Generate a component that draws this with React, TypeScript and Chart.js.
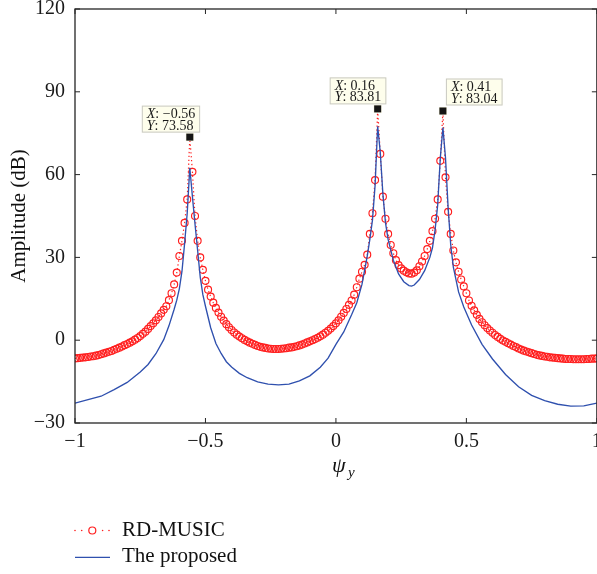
import React, { useEffect, useRef } from "react";
import { Chart, registerables } from "chart.js";

Chart.register(...registerables);

// ---------- data ----------
const psiStart = -1;
const psiStep = 0.01;

// RD-MUSIC spectrum (dB), sampled on psi = -1 : 0.01 : 1
const rdMusic = [
  -6.6, -6.5, -6.4, -6.3, -6.2, -6.1, -5.9, -5.8, -5.6, -5.4,
  -5.1, -4.8, -4.5, -4.2, -3.9, -3.5, -3.1, -2.7, -2.3, -1.8,
  -1.4, -0.9, -0.4, 0.2, 0.8, 1.5, 2.3, 3.1, 4.1, 5.1,
  6.1, 7.2, 8.4, 9.7, 11.0, 12.3, 14.5, 17.0, 20.2, 24.5,
  30.5, 36.0, 42.5, 51.0, 73.58, 61.0, 45.0, 36.0, 30.0, 25.5,
  21.5, 18.3, 15.8, 13.6, 11.7, 10.0, 8.5, 7.1, 5.8, 4.7,
  3.7, 2.8, 2.0, 1.3, 0.7, 0.1, -0.4, -0.9, -1.3, -1.7,
  -2.1, -2.4, -2.6, -2.8, -3.0, -3.1, -3.2, -3.2, -3.2, -3.1,
  -3.0, -2.9, -2.7, -2.6, -2.4, -2.2, -1.9, -1.6, -1.2, -0.8,
  -0.4, 0.0, 0.4, 0.9, 1.4, 2.0, 2.7, 3.4, 4.2, 5.1,
  6.1, 7.2, 8.5, 9.9, 11.3, 12.8, 14.4, 16.5, 19.2, 22.3,
  24.8, 27.3, 31.0, 38.5, 46.0, 58.0, 83.81, 67.5, 52.0, 44.0,
  38.5, 34.5, 31.5, 29.0, 27.2, 26.0, 25.2, 24.6, 24.2, 24.1,
  24.5, 25.3, 26.8, 28.5, 30.5, 33.0, 36.0, 39.5, 44.0, 51.0,
  65.0, 83.04, 59.0, 46.5, 38.5, 32.5, 28.2, 24.8, 22.0, 19.5,
  17.0, 14.4, 12.5, 10.8, 9.2, 7.7, 6.5, 5.4, 4.4, 3.5,
  2.7, 1.9, 1.2, 0.5, -0.1, -0.6, -1.1, -1.6, -2.1, -2.5,
  -3.0, -3.4, -3.8, -4.1, -4.4, -4.7, -5.0, -5.3, -5.5, -5.7,
  -5.9, -6.0, -6.2, -6.3, -6.4, -6.5, -6.6, -6.7, -6.8, -6.8,
  -6.8, -6.9, -6.9, -6.9, -6.9, -6.9, -6.8, -6.8, -6.7, -6.7,
  -6.6,
];
const psiGrid = rdMusic.map((_, i) => Math.round((psiStart + i * psiStep) * 100) / 100);

// The proposed method
const proposedPsi = [
  -1, -0.95, -0.9, -0.85, -0.8, -0.75, -0.72, -0.69, -0.66, -0.64,
  -0.62, -0.61, -0.6, -0.59, -0.58, -0.57, -0.56, -0.55, -0.54, -0.53,
  -0.52, -0.51, -0.5, -0.48, -0.46, -0.44, -0.42, -0.4, -0.37, -0.34,
  -0.3, -0.26, -0.22, -0.18, -0.14, -0.1, -0.06, -0.03, 0, 0.03,
  0.06, 0.08, 0.1, 0.12, 0.13, 0.14, 0.15, 0.16, 0.17, 0.18,
  0.19, 0.2, 0.22, 0.24, 0.26, 0.28, 0.29, 0.3, 0.32, 0.34,
  0.36, 0.37, 0.38, 0.39, 0.4, 0.41, 0.42, 0.43, 0.44, 0.45,
  0.47, 0.49, 0.52, 0.56, 0.6, 0.65, 0.7, 0.75, 0.8, 0.85,
  0.9, 0.95, 1,
];
const proposedAmp = [
  -22.8, -21.5, -20.3, -17.9, -15.3, -11.5, -8.8, -4.9, 0.2, 5.2,
  11.2, 14.5, 18.7, 25, 35, 46, 62.5, 52, 42, 32.5,
  22.8, 16.5, 12.3, 4.5, -1.2, -4.8, -7.8, -9.7, -12, -13.6,
  -15.1, -15.9, -16.2, -15.9, -14.7, -12.9, -9.8, -6.5, -1.5, 3,
  9.2, 13.6, 20.3, 30.5, 36.5, 43.5, 56, 77.5, 68, 53,
  42.5, 36.5, 29, 24, 21.2, 19.8, 19.6, 20, 22, 25.2,
  30, 33.5, 40, 49, 66, 77, 66, 48, 34.5, 26.5,
  17.5, 12, 5.5, -1.5, -6.8, -12.4, -16.9, -20, -21.9, -23.2,
  -23.9, -23.8, -22.8,
];

// data tips (peaks)
const peakPsi = [-0.56, 0.16, 0.41];
const peakAmp = [73.58, 83.81, 83.04];

const xTicks = [-1, -0.5, 0, 0.5, 1];
const yTicks = [-30, 0, 30, 60, 90, 120];
const seriesNames = ["RD-MUSIC", "The proposed"];
const yTitle = "Amplitude (dB)";

// ---------- style ----------
const FONT = '"Liberation Serif", "Times New Roman", serif';
const RED = "#ff1f1f";
const BLUE = "#2f50ae";
const AXIS = "#262626";
const TIP_FONT = 14;
const TIP_OFFSETS = [
  { dx: -48, dy: -31.5 },
  { dx: -48, dy: -31.5 },
  { dx: 3, dy: -32.5 },
];

const fmt = (v: number) => (v < 0 ? "\u2212" + String(Math.abs(v)) : String(v));
const isPeak = (x: number) => peakPsi.some((p) => Math.abs(p - x) < 1e-6);

const decor = {
  id: "decor",
  afterDraw(chart: any) {
    const { ctx, chartArea: a, scales } = chart;
    const xs = scales.x;
    const ys = scales.y;
    ctx.save();
    const line = (x1: number, y1: number, x2: number, y2: number) => {
      ctx.beginPath();
      ctx.moveTo(x1, y1);
      ctx.lineTo(x2, y2);
      ctx.stroke();
    };
    // frame + inward ticks
    ctx.strokeStyle = AXIS;
    ctx.lineWidth = 1.3;
    ctx.setLineDash([]);
    ctx.strokeRect(a.left, a.top, a.right - a.left, a.bottom - a.top);
    ctx.lineWidth = 1;
    xTicks.forEach((v) => {
      const p = xs.getPixelForValue(v);
      line(p, a.bottom, p, a.bottom - 5);
      line(p, a.top, p, a.top + 5);
    });
    yTicks.forEach((v) => {
      const p = ys.getPixelForValue(v);
      line(a.left, p, a.left + 5, p);
      line(a.right, p, a.right - 5, p);
    });

    // data tips
    peakPsi.forEach((px, i) => {
      const mx = xs.getPixelForValue(px);
      const my = ys.getPixelForValue(peakAmp[i]);
      const l1v = ": " + fmt(px);
      const l2v = ": " + peakAmp[i].toFixed(2);
      ctx.font = `italic ${TIP_FONT}px ${FONT}`;
      const wX = ctx.measureText("X").width;
      const wY = ctx.measureText("Y").width;
      ctx.font = `${TIP_FONT}px ${FONT}`;
      const w1 = wX + ctx.measureText(l1v).width;
      const w2 = wY + ctx.measureText(l2v).width;
      const bw = Math.max(w1, w2) + 10;
      const bh = 27;
      const bx = mx + TIP_OFFSETS[i].dx;
      const by = my + TIP_OFFSETS[i].dy;
      ctx.fillStyle = "#fefeec";
      ctx.fillRect(bx, by, bw, bh);
      ctx.strokeStyle = "#c9c9c2";
      ctx.lineWidth = 1;
      ctx.strokeRect(bx + 0.5, by + 0.5, bw - 1, bh - 1);
      ctx.fillStyle = "#1a1a1a";
      ctx.textAlign = "left";
      ctx.textBaseline = "alphabetic";
      ctx.font = `italic ${TIP_FONT}px ${FONT}`;
      ctx.fillText("X", bx + 5, by + 12.5);
      ctx.fillText("Y", bx + 5, by + 24);
      ctx.font = `${TIP_FONT}px ${FONT}`;
      ctx.fillText(l1v, bx + 5 + wX, by + 12.5);
      ctx.fillText(l2v, bx + 5 + wY, by + 24);
      // marker
      ctx.fillStyle = "#f3f0d8";
      ctx.fillRect(mx - 4, my - 4, 8, 8);
      ctx.fillStyle = "#151515";
      ctx.fillRect(mx - 3.5, my - 3.5, 7, 7);
    });

    // y title
    ctx.fillStyle = "#111";
    ctx.font = `21px ${FONT}`;
    ctx.save();
    ctx.translate(25, (a.top + a.bottom) / 2);
    ctx.rotate(-Math.PI / 2);
    ctx.textAlign = "center";
    ctx.textBaseline = "alphabetic";
    ctx.fillText(yTitle, 0, 0);
    ctx.restore();

    // x title  psi_y
    ctx.textAlign = "left";
    ctx.textBaseline = "alphabetic";
    ctx.font = `italic 22px ${FONT}`;
    ctx.fillText("\u03c8", 332, 472);
    ctx.font = `italic 15px ${FONT}`;
    ctx.fillText("y", 348, 477);

    // legend
    const lx0 = 75;
    const lx1 = 110;
    const ly1 = 530.5;
    const ly2 = 557.3;
    ctx.fillStyle = RED;
    [75, 81.7, 102.6, 109].forEach((dx) => {
      ctx.beginPath();
      ctx.arc(dx, ly1, 0.8, 0, Math.PI * 2);
      ctx.fill();
    });
    ctx.strokeStyle = RED;
    ctx.setLineDash([]);
    ctx.lineWidth = 1.2;
    ctx.beginPath();
    ctx.arc(92.3, ly1, 3.5, 0, Math.PI * 2);
    ctx.stroke();
    ctx.strokeStyle = BLUE;
    ctx.lineWidth = 1.3;
    line(lx0, ly2, lx1, ly2);
    ctx.fillStyle = "#111";
    ctx.font = `21px ${FONT}`;
    ctx.fillText(seriesNames[0], 122, 535.5);
    ctx.fillText(seriesNames[1], 122, 562);
    ctx.restore();
  },
};

export default function App() {
  const ref = useRef<HTMLCanvasElement>(null);
  useEffect(() => {
    const canvas = ref.current;
    if (!canvas) return;
    const tickFont = { family: FONT, size: 20 };
    const chart = new Chart(canvas, {
      type: "line",
      data: {
        datasets: [
          {
            label: seriesNames[0],
            data: psiGrid.map((x, i) => ({ x, y: rdMusic[i] })),
            borderColor: RED,
            borderWidth: 1.2,
            borderDash: [1.3, 2.6],
            pointStyle: "circle",
            pointRadius: (c: any) => (c.raw && isPeak(c.raw.x) ? 0 : 3.5),
            pointBorderColor: RED,
            pointBackgroundColor: "rgba(0,0,0,0)",
            pointBorderWidth: 1.15,
            tension: 0,
            order: 2,
          },
          {
            label: seriesNames[1],
            data: proposedPsi.map((x, i) => ({ x, y: proposedAmp[i] })),
            borderColor: BLUE,
            borderWidth: 1.35,
            pointRadius: 0,
            tension: 0,
            order: 1,
          },
        ],
      },
      options: {
        animation: false,
        responsive: false,
        devicePixelRatio: 1,
        layout: { padding: { top: 9, right: 0, bottom: 111, left: 0 } },
        plugins: { legend: { display: false }, tooltip: { enabled: false } },
        scales: {
          x: {
            type: "linear",
            min: -1,
            max: 1,
            grid: { display: false, drawTicks: false },
            border: { display: false },
            afterBuildTicks: (s: any) => {
              s.ticks = xTicks.map((v) => ({ value: v }));
            },
            ticks: {
              font: tickFont,
              color: "#1a1a1a",
              padding: 7,
              maxRotation: 0,
              autoSkip: false,
              callback: (v: any) => fmt(Number(v)),
            },
            afterFit: (s: any) => {
              s.height = 40;
              s.paddingLeft = 0;
              s.paddingRight = 0;
            },
          },
          y: {
            type: "linear",
            min: -30,
            max: 120,
            grid: { display: false, drawTicks: false },
            border: { display: false },
            afterBuildTicks: (s: any) => {
              s.ticks = yTicks.map((v) => ({ value: v }));
            },
            ticks: {
              font: tickFont,
              color: "#1a1a1a",
              padding: 10,
              autoSkip: false,
              callback: (v: any) => fmt(Number(v)),
            },
            afterFit: (s: any) => {
              s.width = 75;
              s.paddingTop = 0;
              s.paddingBottom = 0;
            },
          },
        },
      } as any,
      plugins: [decor],
    });
    return () => chart.destroy();
  }, []);
  return (
    <div
      style={{
        position: "absolute",
        left: 0,
        top: 0,
        width: 597,
        height: 574,
        overflow: "hidden",
        background: "#fff",
      }}
    >
      <canvas ref={ref} width={602} height={574} style={{ display: "block", width: 602, height: 574 }} />
    </div>
  );
}
